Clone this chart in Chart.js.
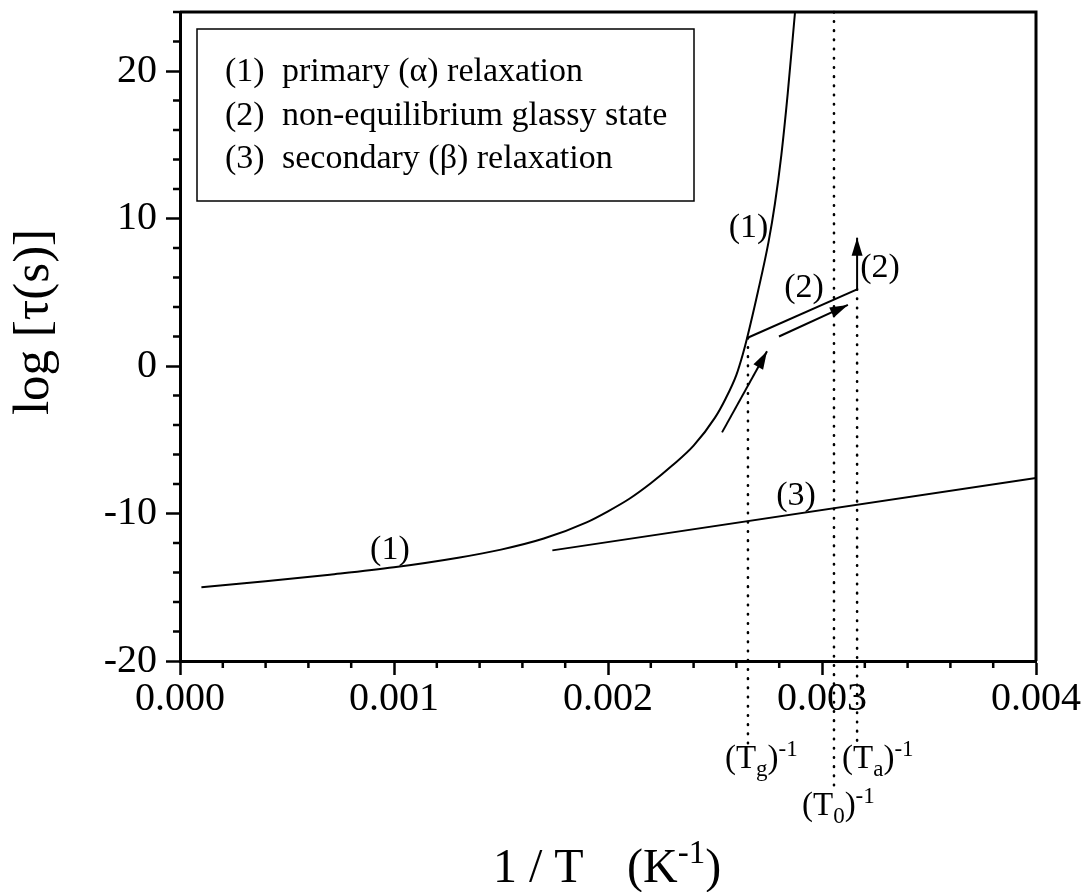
<!DOCTYPE html>
<html>
<head>
<meta charset="utf-8">
<script src="https://cdn.jsdelivr.net/npm/chart.js@4.4.0/dist/chart.umd.min.js"></script>
<style>
  html, body { margin: 0; padding: 0; background: #fff; }
  #wrap { width: 1089px; height: 892px; }
</style>
</head>
<body>
<div id="wrap"><canvas id="c" width="1089" height="892"></canvas></div>
<script>
// (1) primary (alpha) relaxation
const alphaX = [0.0001, 0.0004, 0.0007, 0.001, 0.0013, 0.0015, 0.0017, 0.0019, 0.002, 0.0021,
  0.0022, 0.0023, 0.0024, 0.0025, 0.00255, 0.0026, 0.00263, 0.00265, 0.0027, 0.00275,
  0.00278, 0.00281, 0.00284, 0.002874];
const alphaY = [-15.0, -14.6, -14.15, -13.65, -13.0, -12.45, -11.7, -10.6, -9.85, -9.0,
  -7.95, -6.75, -5.4, -3.5, -2.2, -0.6, 0.8, 1.9, 5.0, 8.4,
  11.0, 14.3, 18.5, 24];

// (3) secondary (beta) relaxation
const betaX = [0.00174, 0.004];
const betaY = [-12.5, -7.6];

// (2) non-equilibrium glassy state + jump at Ta
const glassX = [0.00265, 0.003164];
const glassY = [1.9, 5.2];
const jumpX = [0.003164, 0.003164];
const jumpY = [5.2, 8.7];

// guide arrows
const arrow1X = [0.002533, 0.002743];
const arrow1Y = [-4.5, 1.0];
const arrow2X = [0.002799, 0.003121];
const arrow2Y = [2.0, 4.14];

// characteristic temperatures, 1/Tg, 1/T0, 1/Ta
const tempSub = ['g', '0', 'a'];
const tempX = [0.002654, 0.003056, 0.003164];
const tempTop = [1.9, 24, 5.2];
const tempBottom = [-25.8, -28.5, -25.8];

const xMajor = [0, 0.001, 0.002, 0.003, 0.004];
const yMajor = [-20, -10, 0, 10, 20];

const legendNums = ['(1)', '(2)', '(3)'];
const legendText = ['primary (\u03b1) relaxation', 'non-equilibrium glassy state', 'secondary (\u03b2) relaxation'];
const curveLabels = ['(1)', '(2)', '(2)', '(3)', '(1)'];

const SERIF = '"Liberation Serif", "Times New Roman", serif';

const pts = (xs, ys) => xs.map((x, i) => ({ x, y: ys[i] }));
const line = (data, extra) => Object.assign({
  data, borderColor: '#000', borderWidth: 2, pointRadius: 0, fill: false, showLine: true
}, extra || {});

const isMajor = (v, list) => list.some((m) => Math.abs(v - m) < 1e-9);

function arrowHead(ctx, x0, y0, x1, y1, len, half) {
  const a = Math.atan2(y1 - y0, x1 - x0);
  const c = Math.cos(a), s = Math.sin(a);
  ctx.beginPath();
  ctx.moveTo(x1, y1);
  ctx.lineTo(x1 - len * c + half * s, y1 - len * s - half * c);
  ctx.lineTo(x1 - len * c - half * s, y1 - len * s + half * c);
  ctx.closePath();
  ctx.fill();
}

// draws pieces [text, size, dy] left to right (sub/superscripts)
function richText(ctx, x, y, parts) {
  let cx = x;
  parts.forEach(([t, size, dy]) => {
    ctx.font = size + 'px ' + SERIF;
    ctx.fillText(t, cx, y + (dy || 0));
    cx += ctx.measureText(t).width;
  });
}

const decor = {
  id: 'decor',
  afterDatasetsDraw(chart) {
    const { ctx, chartArea: a, scales: { x, y } } = chart;
    ctx.save();
    ctx.fillStyle = '#000';
    ctx.strokeStyle = '#000';

    const px = (v) => x.getPixelForValue(v);
    const py = (v) => y.getPixelForValue(v);

    // arrow heads
    arrowHead(ctx, px(arrow1X[0]), py(arrow1Y[0]), px(arrow1X[1]), py(arrow1Y[1]), 18, 5.5);
    arrowHead(ctx, px(arrow2X[0]), py(arrow2Y[0]), px(arrow2X[1]), py(arrow2Y[1]), 18, 5.5);
    arrowHead(ctx, px(jumpX[0]), py(jumpY[0]), px(jumpX[1]), py(jumpY[1]), 18, 5.5);

    // top and right frame
    ctx.lineWidth = 3;
    ctx.beginPath();
    ctx.moveTo(a.left, a.top);
    ctx.lineTo(a.right, a.top);
    ctx.lineTo(a.right, a.bottom);
    ctx.stroke();

    // minor ticks
    ctx.lineWidth = 2.5;
    ctx.beginPath();
    x.ticks.forEach((t) => {
      if (isMajor(t.value, xMajor)) return;
      const p = px(t.value);
      ctx.moveTo(p, a.bottom);
      ctx.lineTo(p, a.bottom + 7);
    });
    y.ticks.forEach((t) => {
      if (isMajor(t.value, yMajor)) return;
      const p = py(t.value);
      ctx.moveTo(a.left, p);
      ctx.lineTo(a.left - 7, p);
    });
    ctx.stroke();

    // legend box
    ctx.lineWidth = 1.5;
    ctx.strokeRect(197, 29, 497, 172);
    ctx.font = '34px ' + SERIF;
    ctx.textBaseline = 'alphabetic';
    ctx.textAlign = 'left';
    legendNums.forEach((n, i) => {
      ctx.fillText(n, 225, 81 + i * 43.5);
      ctx.fillText(legendText[i], 282, 81 + i * 43.5);
    });

    // labels on the curves
    const spots = [[0.002657, 8.75], [0.002916, 4.68], [0.003271, 6.03], [0.002879, -9.42], [0.000981, -13.08]];
    ctx.textAlign = 'center';
    curveLabels.forEach((t, i) => ctx.fillText(t, px(spots[i][0]), py(spots[i][1])));

    // (T)^-1 labels under the axis
    ctx.textAlign = 'left';
    const offs = [-23, -32, -15];
    const base = [768, 815, 768];
    tempSub.forEach((s, i) => {
      richText(ctx, px(tempX[i]) + offs[i], base[i], [['(T', 33], [s, 23, 8], [')', 33], ['-1', 23, -12]]);
    });

    // axis titles
    richText(ctx, 493, 882, [['1 / T', 48]]);
    richText(ctx, 627, 882, [['(K', 48], ['-1', 33, -19], [')', 48]]);
    ctx.translate(48, 322);
    ctx.rotate(-Math.PI / 2);
    ctx.textAlign = 'center';
    ctx.font = '51px ' + SERIF;
    ctx.fillText('log [\u03c4(s)]', 0, 0);
    ctx.restore();
  }
};

new Chart(document.getElementById('c'), {
  type: 'line',
  data: {
    datasets: [
      line(pts(alphaX, alphaY), { cubicInterpolationMode: 'monotone' }),
      line(pts(betaX, betaY)),
      line(pts(glassX, glassY)),
      line(pts(jumpX, jumpY)),
      line(pts(arrow1X, arrow1Y)),
      line(pts(arrow2X, arrow2Y)),
      ...tempX.map((v, i) => line(pts([v, v], [tempTop[i], tempBottom[i]]), {
        borderWidth: 2.6, borderDash: [0.5, 8.7], borderCapStyle: 'round', clip: false
      }))
    ]
  },
  options: {
    responsive: false,
    animation: false,
    events: [],
    layout: { padding: { top: 12, right: 53, left: 0, bottom: 0 } },
    plugins: { legend: { display: false }, tooltip: { enabled: false } },
    scales: {
      x: {
        type: 'linear',
        min: 0,
        max: 0.004,
        afterFit: (s) => { s.height = 231; s.paddingLeft = 0; s.paddingRight = 0; },
        border: { display: true, width: 3, color: '#000' },
        grid: {
          drawOnChartArea: false, drawTicks: true, tickLength: 14, tickWidth: 2.5,
          tickColor: (c) => (c.tick && isMajor(c.tick.value, xMajor) ? '#000' : 'rgba(0,0,0,0)')
        },
        ticks: {
          stepSize: 0.0002, maxTicksLimit: 100, autoSkip: false, maxRotation: 0, minRotation: 0,
          padding: 0, color: '#000', font: { family: SERIF, size: 40 },
          callback: (v) => (isMajor(v, xMajor) ? v.toFixed(3) : '')
        }
      },
      y: {
        type: 'linear',
        min: -20,
        max: 24,
        afterFit: (s) => { s.width = 180; s.paddingTop = 0; s.paddingBottom = 0; },
        border: { display: true, width: 3, color: '#000' },
        grid: {
          drawOnChartArea: false, drawTicks: true, tickLength: 14, tickWidth: 2.5,
          tickColor: (c) => (c.tick && isMajor(c.tick.value, yMajor) ? '#000' : 'rgba(0,0,0,0)')
        },
        ticks: {
          stepSize: 2, maxTicksLimit: 100, includeBounds: false, autoSkip: false,
          padding: 9, color: '#000', font: { family: SERIF, size: 40 },
          callback: (v) => (isMajor(v, yMajor) ? String(v) : '')
        }
      }
    }
  },
  plugins: [decor]
});
</script>
</body>
</html>
